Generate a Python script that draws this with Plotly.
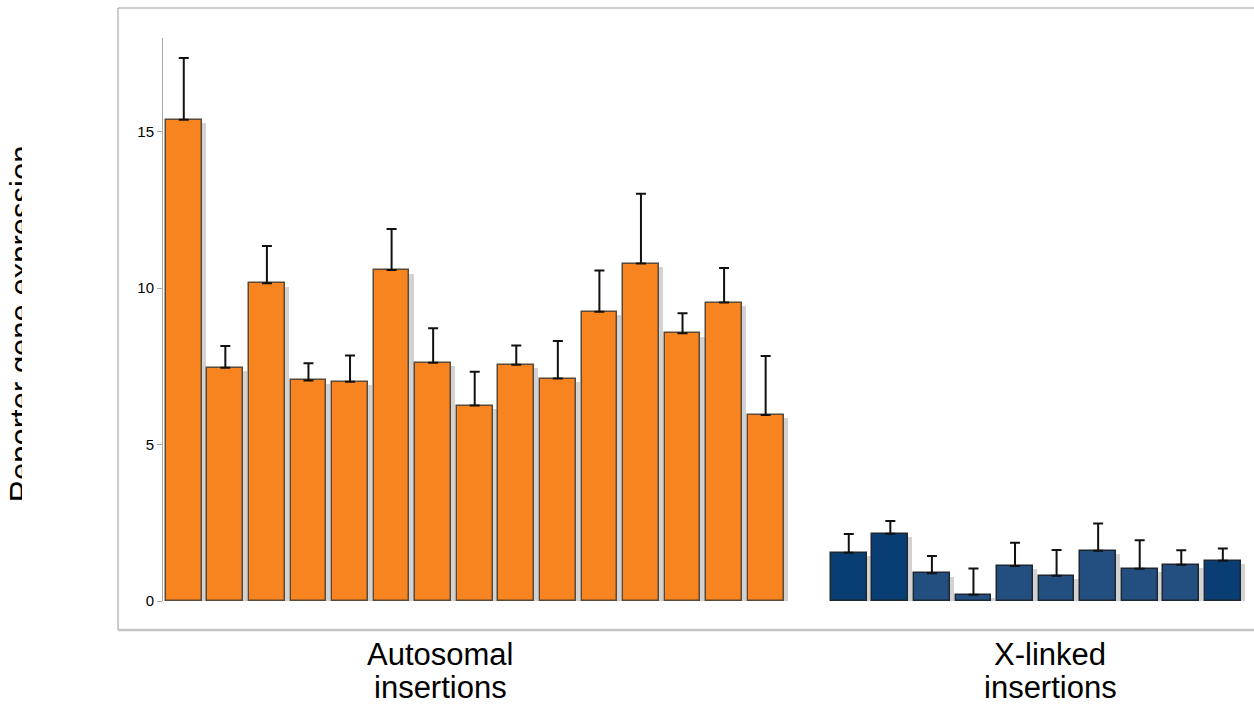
import plotly.graph_objects as go

# Reporter expression per insertion line (mean and upper error)
auto_values = [15.39, 7.46, 10.16, 7.05, 7.01, 10.58, 7.62, 6.25, 7.55, 7.11, 9.25, 10.79, 8.56, 9.54, 5.95]
auto_errors = [1.97, 0.69, 1.19, 0.55, 0.84, 1.31, 1.10, 1.08, 0.62, 1.20, 1.32, 2.23, 0.64, 1.11, 1.88]
xlinked_values = [1.54, 2.15, 0.89, 0.20, 1.12, 0.81, 1.61, 1.03, 1.16, 1.29]
xlinked_errors = [0.60, 0.41, 0.55, 0.84, 0.74, 0.82, 0.87, 0.91, 0.46, 0.39]

group_labels = [("Autosomal", "insertions"), ("X-linked", "insertions")]
y_ticks = [0, 5, 10, 15]
y_title = "Reporter gene expression"

# slot positions: autosomal lines first, one empty slot, then X-linked lines
auto_pos = list(range(len(auto_values)))
xlinked_pos = list(range(len(auto_values) + 1, len(auto_values) + 1 + len(xlinked_values)))

W, H = 1254, 706
FONT = "Liberation Sans, Arial, Helvetica, sans-serif"
ORANGE = "#F8841F"
NAVY_DARK = "#083E73"
NAVY = "#224F80"
xlinked_colors = [NAVY_DARK, NAVY_DARK, NAVY, NAVY, NAVY, NAVY, NAVY, NAVY, NAVY, NAVY_DARK]


def px(x):
    return x / W


def py(y):
    return 1 - y / H


BAR_W = 0.86
SHADOW_DX = 0.1
SHADOW_DY = 0.11

fig = go.Figure()

# soft drop shadows behind each bar
fig.add_trace(go.Bar(
    x=[p + SHADOW_DX for p in auto_pos + xlinked_pos],
    y=[max(v - SHADOW_DY, 0) for v in auto_values + xlinked_values],
    width=BAR_W,
    marker=dict(color="#D2D2D2", line=dict(width=0)),
    hoverinfo="skip",
    showlegend=False,
))

err_style = dict(type="data", symmetric=False, color="#111111", thickness=2, width=5)

fig.add_trace(go.Bar(
    x=auto_pos,
    y=auto_values,
    width=BAR_W,
    marker=dict(color=ORANGE, line=dict(color="#5A4838", width=1.5)),
    error_y=dict(array=auto_errors, arrayminus=[0] * len(auto_errors), **err_style),
    showlegend=False,
))

fig.add_trace(go.Bar(
    x=xlinked_pos,
    y=xlinked_values,
    width=BAR_W,
    marker=dict(color=xlinked_colors, line=dict(color="#1E2630", width=1.5)),
    error_y=dict(array=xlinked_errors, arrayminus=[0] * len(xlinked_errors), **err_style),
    showlegend=False,
))

# axis title drawn as clipped rotated text in a narrow strip on the left
fig.add_trace(go.Bar(
    x=[21.5],
    y=[1],
    width=1,
    base=0,
    xaxis="x2",
    yaxis="y2",
    text=[y_title],
    textposition="inside",
    insidetextanchor="middle",
    textangle=-90,
    constraintext="none",
    cliponaxis=True,
    insidetextfont=dict(family=FONT, size=31, color="#000000"),
    textfont=dict(family=FONT, size=31, color="#000000"),
    marker=dict(color="rgba(0,0,0,0)", line=dict(width=0)),
    hoverinfo="skip",
    showlegend=False,
))

title_center = py(324)

fig.update_layout(
    width=W,
    height=H,
    autosize=False,
    template="none",
    margin=dict(l=0, r=0, t=0, b=0),
    paper_bgcolor="white",
    plot_bgcolor="rgba(0,0,0,0)",
    barmode="overlay",
    bargap=0,
    showlegend=False,
    font=dict(family=FONT, color="#000000"),
    xaxis=dict(
        domain=[px(163), 1],
        range=[-0.5, 25.75],
        visible=False,
        fixedrange=True,
    ),
    yaxis=dict(
        domain=[py(601), py(38)],
        range=[0, 18],
        tickvals=y_ticks,
        ticktext=[str(t) for t in y_ticks],
        ticks="outside",
        ticklen=5,
        tickwidth=1,
        tickcolor="#A8A8A8",
        showline=True,
        linecolor="#A8A8A8",
        linewidth=1,
        showgrid=False,
        zeroline=False,
        automargin=False,
        tickfont=dict(family=FONT, size=15, color="#000000"),
        fixedrange=True,
    ),
    xaxis2=dict(
        domain=[0, px(22)],
        range=[0, 22],
        anchor="y2",
        visible=False,
        fixedrange=True,
    ),
    yaxis2=dict(
        domain=[title_center - 0.42, title_center + 0.42],
        range=[0, 1],
        anchor="x2",
        visible=False,
        fixedrange=True,
    ),
)

# outer frame
frame_left, frame_top, frame_bottom = 118, 8, 630
fig.add_shape(type="line", xref="paper", yref="paper",
              x0=px(frame_left), x1=px(frame_left), y0=py(frame_top), y1=py(frame_bottom),
              line=dict(color="#9A9A9A", width=1))
fig.add_shape(type="line", xref="paper", yref="paper",
              x0=px(frame_left), x1=1, y0=py(frame_top), y1=py(frame_top),
              line=dict(color="#A0A0A0", width=1))
fig.add_shape(type="line", xref="paper", yref="paper",
              x0=px(frame_left), x1=1, y0=py(frame_bottom), y1=py(frame_bottom),
              line=dict(color="#C4C4C4", width=2.5))

# group labels under each set of bars
label_x = [440, 1050]
for (line1, line2), lx in zip(group_labels, label_x):
    fig.add_annotation(x=px(lx), y=py(654.5), xref="paper", yref="paper",
                       text=line1, showarrow=False, xanchor="center", yanchor="middle",
                       font=dict(family=FONT, size=31, color="#000000"))
    fig.add_annotation(x=px(lx), y=py(687.5), xref="paper", yref="paper",
                       text=line2, showarrow=False, xanchor="center", yanchor="middle",
                       font=dict(family=FONT, size=31, color="#000000"))

fig.write_html("out.html", config=dict(displayModeBar=False))
